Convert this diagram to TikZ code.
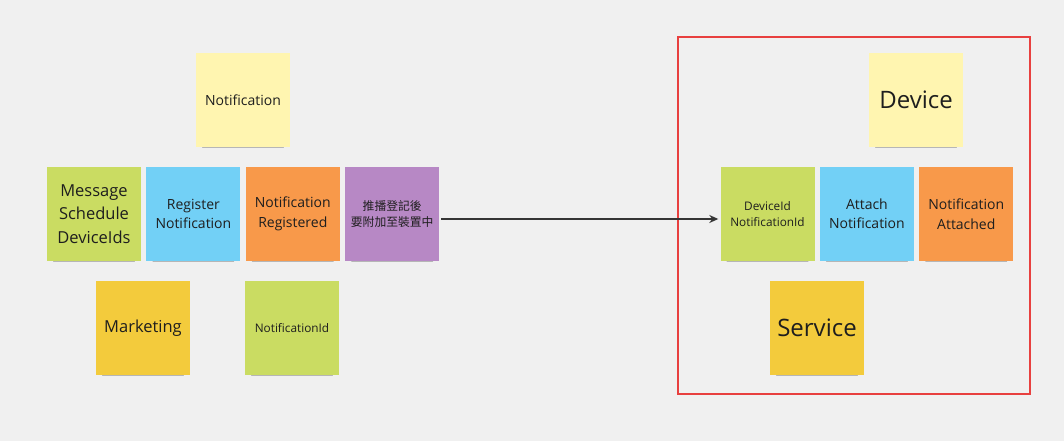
\documentclass[tikz,border=0pt]{standalone}
\usepackage{fontspec}
\setmainfont{Open Sans}
\newfontfamily\cjk{Noto Sans CJK TC}
\usetikzlibrary{positioning,shadows.blur,arrows.meta}
\definecolor{bgcol}{HTML}{F0F0F0}
\definecolor{paleyel}{HTML}{FFF5B0}
\definecolor{limecol}{HTML}{CADC62}
\definecolor{skycol}{HTML}{72D0F6}
\definecolor{orangecol}{HTML}{F8994A}
\definecolor{purplecol}{HTML}{B788C5}
\definecolor{goldcol}{HTML}{F3CB3C}
\definecolor{framecol}{HTML}{E8403F}
\definecolor{inkcol}{HTML}{1E1E1E}
\tikzset{
  sticky/.style={minimum width=94pt,minimum height=94pt,inner sep=2pt,align=center,
    text=inkcol,blur shadow={shadow xshift=0pt,shadow yshift=-6pt,shadow scale=0.86,
    shadow blur steps=6,shadow opacity=60}},
  small/.style={font=\fontsize{11.8}{16}\selectfont},
  mid/.style={font=\fontsize{14}{19.5}\selectfont},
  large/.style={font=\fontsize{16.5}{23.5}\selectfont},
  huge/.style={font=\fontsize{24}{28}\selectfont},
}
\begin{document}
\begin{tikzpicture}[x=1pt,y=1pt,>={Stealth[length=9pt,width=8pt]}]
  \fill[bgcol] (0,0) rectangle (1064,441);
  \useasboundingbox (0,0) rectangle (1064,441);
  % left group
  \node[sticky,mid,fill=paleyel] (notif) at (243,341) {Notification};
  \node[sticky,large,fill=limecol] (msg) at (94,227) {Message\\Schedule\\DeviceIds};
  \node[sticky,mid,fill=skycol,right=5pt of msg] (reg) {Register\\Notification};
  \node[sticky,mid,fill=orangecol,right=5pt of reg] (regd) {Notification\\Registered};
  \node[sticky,small,fill=purplecol,right=5pt of regd] (push) {\cjk 推播登記後\\\cjk 要附加至裝置中};
  \node[sticky,large,fill=goldcol] (mkt) at (143,113) {Marketing};
  \node[sticky,small,fill=limecol] (nid) at (292,113) {NotificationId};
  % right group
  \draw[framecol,line width=2pt] (678,404) rectangle (1030,47);
  \node[sticky,huge,fill=paleyel] (device) at (916,341) {Device};
  \node[sticky,small,fill=limecol] (dnid) at (767.5,227) {DeviceId\\NotificationId};
  \node[sticky,mid,fill=skycol,right=5pt of dnid] (attach) {Attach\\Notification};
  \node[sticky,mid,fill=orangecol,right=5pt of attach] (attd) {Notification\\Attached};
  \node[sticky,huge,fill=goldcol] (svc) at (817,113) {Service};
  % link
  \draw[->,inkcol!90,line width=1.6pt,shorten <=2pt,shorten >=2pt]
    ([yshift=-5pt]push.east) -- ([yshift=-5pt]dnid.west);
\end{tikzpicture}
\end{document}
